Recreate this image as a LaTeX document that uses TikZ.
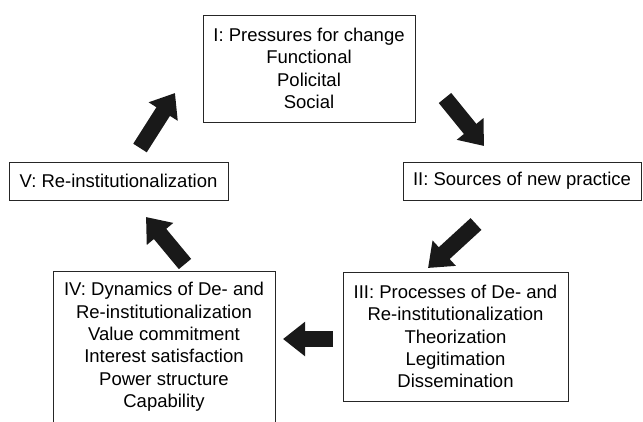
\documentclass[tikz,border=0pt]{standalone}
\usepackage{fontspec}
\setmainfont{Liberation Sans}
\usetikzlibrary{arrows.meta}

\begin{document}
\begin{tikzpicture}
    [x=1pt, y=-1pt,
    box/.style = {rectangle, draw=black!85, line width=1pt, align=center,
            inner sep=0pt, font=\fontsize{18.5}{22.4}\selectfont},
    bigarrow/.style = {draw=black!90, line width=16pt,
            -{Triangle[width=33pt, length=22pt]}},
    ]
    \useasboundingbox (0, 0) rectangle (643, 421);

	\node[box, minimum width=212pt, minimum height=107pt] (pressures) at (309, 68.5) {I: Pressures for change\\Functional\\Policital\\Social};
	
	\node[box, minimum width=238pt, minimum height=38pt] (sources) at (522, 181) {II: Sources of new practice};
	
	\node[box, minimum width=225pt, minimum height=129pt] (processes) at (455.5, 336.5) {III: Processes of De- and\\Re-institutionalization\\Theorization\\Legitimation\\Dissemination};
	
	\node[box, minimum width=222pt, minimum height=152pt] (dynamics) at (164, 347) {IV: Dynamics of De- and\\Re-institutionalization\\Value commitment\\Interest satisfaction\\Power structure\\Capability};
	
	\node[box, minimum width=219pt, minimum height=38pt] (reinst) at (118.5, 181) {V: Re-institutionalization};
	
	% arrow ends in the gaps between the boxes
	\coordinate (v-tail) at (140, 148);
	\coordinate (v-tip) at (175, 93);
	\coordinate (i-tail) at (445, 98);
	\coordinate (i-tip) at (484, 146);
	\coordinate (ii-tail) at (476, 224);
	\coordinate (ii-tip) at (428, 268);
	\coordinate (iii-tail) at (333, 339);
	\coordinate (iii-tip) at (283, 339);
	\coordinate (iv-tail) at (185, 264);
	\coordinate (iv-tip) at (146, 217);
	
	\draw[bigarrow] (v-tail) to (v-tip);
	\draw[bigarrow] (i-tail) to (i-tip);
	\draw[bigarrow] (ii-tail) to (ii-tip);
	\draw[bigarrow] (iii-tail) to (iii-tip);
	\draw[bigarrow] (iv-tail) to (iv-tip);
\end{tikzpicture}
\end{document}
